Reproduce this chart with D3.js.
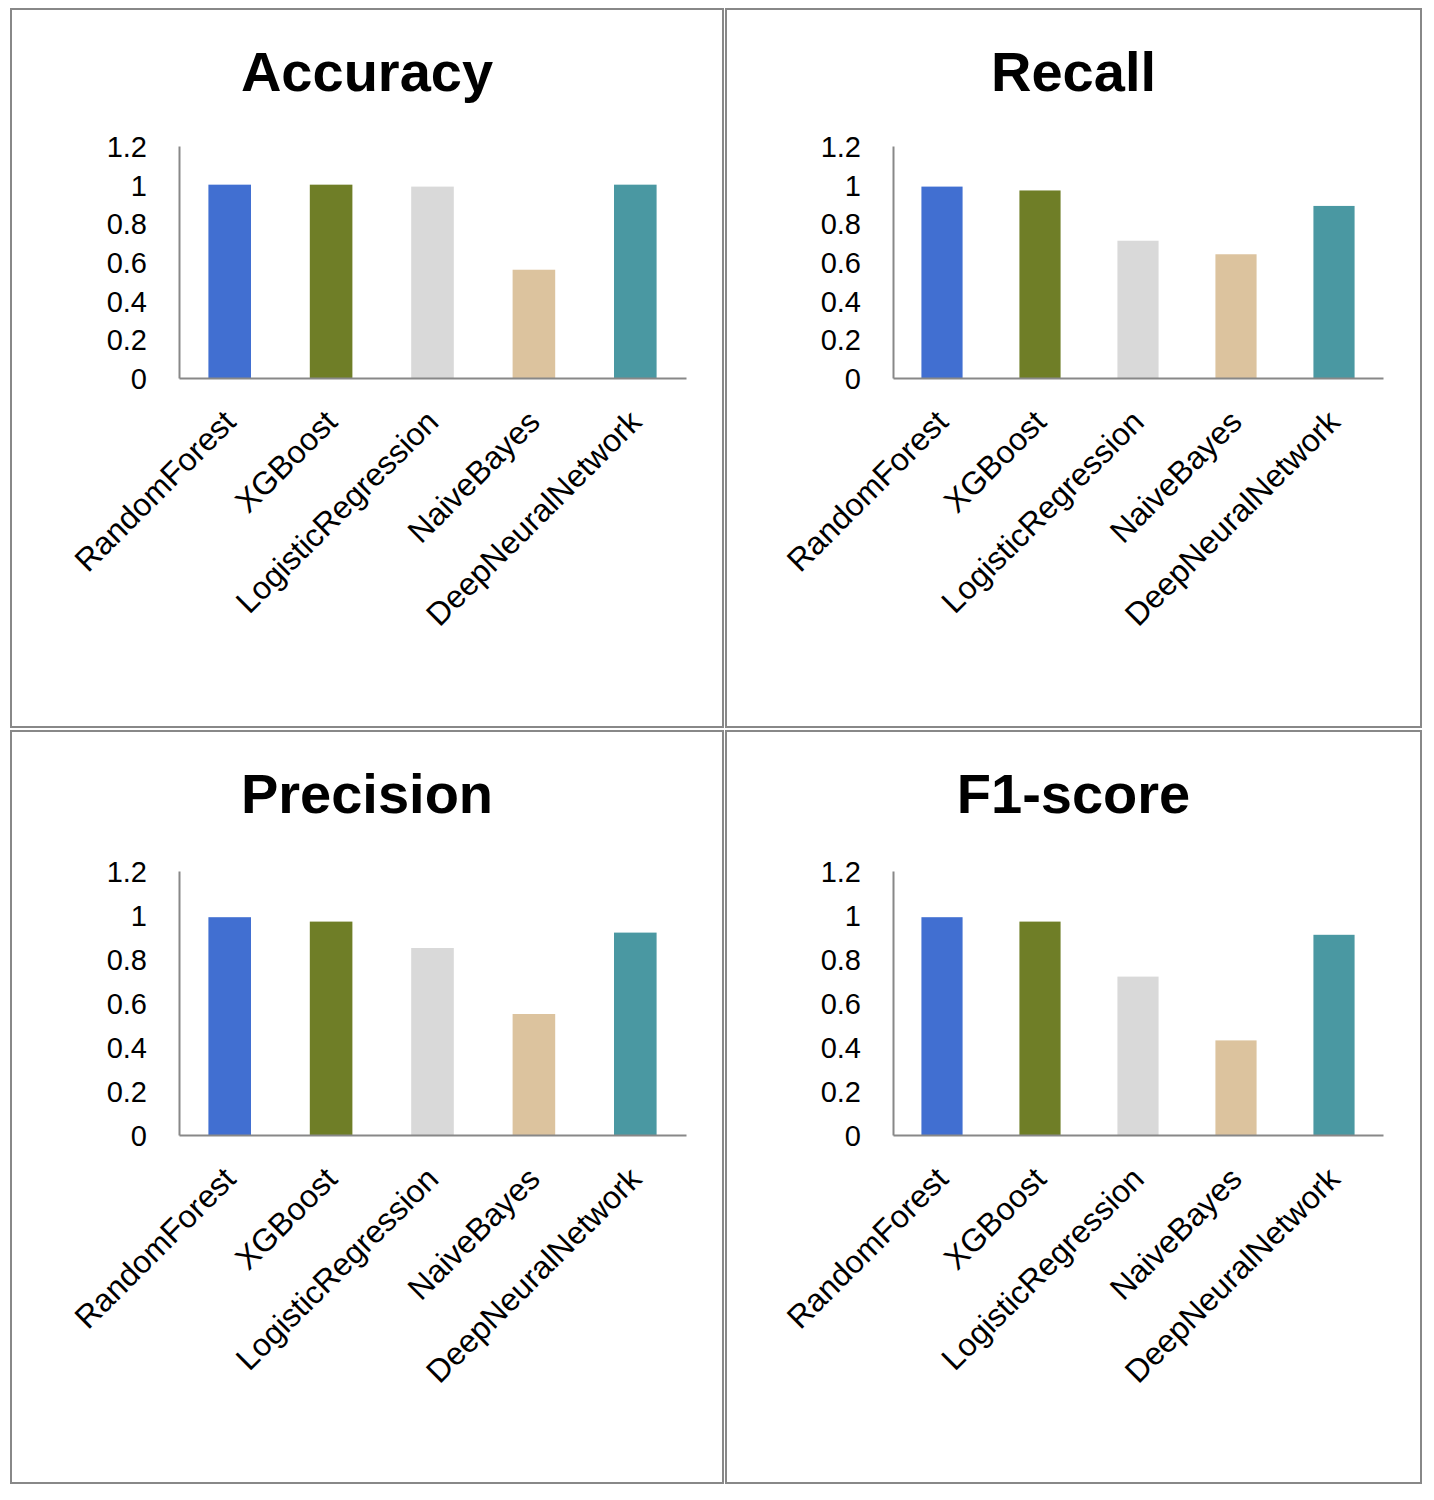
<!DOCTYPE html>
<html lang="en">
<head>
<meta charset="UTF-8">
<title>Model metrics</title>
<script src="https://d3js.org/d3.v7.min.js"></script>
<style>
    body { margin: 0; background: #fff; }
    svg { display: block; }
    .title { font-family: "Liberation Sans", Arial, sans-serif; font-weight: bold; font-size: 56px; fill: #000; }
    .tick text { font-family: "Liberation Sans", Arial, sans-serif; font-size: 29px; fill: #000; }
    .x-axis .tick text { font-size: 32px; }
    .domain { stroke: #888; stroke-width: 2px; }
</style>
</head>
<body>
<div id="chart"></div>
<script>
    // data
    const models = ["RandomForest", "XGBoost", "LogisticRegression", "NaiveBayes", "DeepNeuralNetwork"];
    const barColors = ["#416fd1", "#6f7e27", "#d9d9d9", "#dcc39e", "#4a98a2"];
    const accuracy = [1.0, 1.0, 0.99, 0.56, 1.0];
    const recall = [0.99, 0.97, 0.71, 0.64, 0.89];
    const precision = [0.99, 0.97, 0.85, 0.55, 0.92];
    const f1score = [0.99, 0.97, 0.72, 0.43, 0.91];
    const yTicks = [0, 0.2, 0.4, 0.6, 0.8, 1, 1.2];

    // panel frames and plot areas
    const panels = [
        { title: "Accuracy",  values: accuracy,  box: [11, 9, 712, 718],   plot: [179, 146, 686, 378] },
        { title: "Recall",    values: recall,    box: [726, 9, 695, 718],  plot: [893, 146, 1383, 378] },
        { title: "Precision", values: precision, box: [11, 731, 712, 752], plot: [179, 871, 686, 1135] },
        { title: "F1-score",  values: f1score,   box: [726, 731, 695, 752], plot: [893, 871, 1383, 1135] }
    ];

    const svg = d3.select("#chart").append("svg")
        .attr("width", 1434)
        .attr("height", 1500);

    panels.forEach(p => {
        const [bx, by, bw, bh] = p.box;
        const [x0, y0, x1, y1] = p.plot;
        const g = svg.append("g");

        g.append("rect")
            .attr("x", bx).attr("y", by)
            .attr("width", bw).attr("height", bh)
            .attr("fill", "none")
            .attr("stroke", "#888")
            .attr("stroke-width", 2);

        g.append("text")
            .attr("class", "title")
            .attr("x", bx + bw / 2)
            .attr("y", by + 82)
            .attr("text-anchor", "middle")
            .text(p.title);

        const x = d3.scaleBand().domain(models).range([x0, x1]).paddingInner(0.58).paddingOuter(0.29);
        const y = d3.scaleLinear().domain([0, 1.2]).range([y1, y0]);

        g.selectAll("rect.bar")
            .data(p.values)
            .join("rect")
            .attr("class", "bar")
            .attr("x", (d, i) => x(models[i]))
            .attr("width", x.bandwidth())
            .attr("y", d => y(d))
            .attr("height", d => y(0) - y(d))
            .attr("fill", (d, i) => barColors[i]);

        const yAxis = g.append("g")
            .attr("transform", `translate(${x0},0)`)
            .call(d3.axisLeft(y).tickValues(yTicks).tickFormat(d3.format("~g")).tickSize(0).tickPadding(32));
        yAxis.selectAll(".tick text").attr("dy", "0.36em");

        const xAxis = g.append("g")
            .attr("class", "x-axis")
            .attr("transform", `translate(0,${y1})`)
            .call(d3.axisBottom(x).tickSize(0).tickSizeOuter(0));
        xAxis.selectAll(".tick text")
            .attr("text-anchor", "end")
            .attr("dy", "0.35em")
            .attr("y", 0)
            .attr("transform", "translate(0,38) rotate(-45)");
    });
</script>
</body>
</html>
